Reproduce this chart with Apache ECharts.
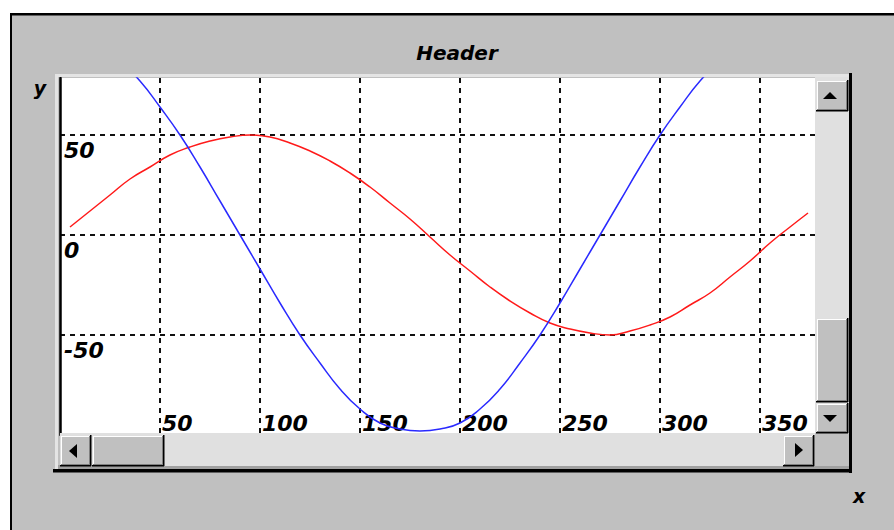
<!DOCTYPE html>
<html><head><meta charset="utf-8">
<script src="https://cdn.jsdelivr.net/npm/echarts@6/dist/echarts.min.js"></script>
<style>html,body{margin:0;padding:0;background:#fff}#c{width:894px;height:530px}</style>
</head><body><div id="c"></div><script>
// ---- data ----
const redX = [5,15,25,35,45,55,65,75,85,95,105,115,125,135,145,155,165,175,185,195,205,215,225,235,245,255,265,275,285,295,305,315,325,335,345,355,365,374];
const redY = [4,12,20,28,34,40,44,47,49,50,49,46,42,37,31,24,16,8,-1,-10,-18,-26,-33,-39,-44,-47,-49,-50,-48,-45,-41,-35,-29,-21,-13,-4,4,11];
const blueX = [30,40,50,60,70,80,90,100,110,120,130,140,150,160,170,180,190,200,210,220,230,240,250,260,270,280,290,300,310,320,330];
const blueY = [87,77,64,50,34,17,0,-17,-34,-50,-64,-77,-87,-94,-97,-98,-97,-94,-87,-77,-64,-50,-34,-17,0,17,34,50,64,77,87];
const xTickLabels = [50,100,150,200,250,300,350];
const yTickLabels = [-50,0,50];
const titleText = 'Header';
const xName = 'x', yName = 'y';

const FONT = 'DejaVu Sans';
const G = [];
function rect(x,y,w,h,fill,z){G.push({type:'rect',shape:{x:x,y:y,width:w,height:h},style:{fill:fill},z:z||100,silent:true});}
function button(x,y,w,h){
  rect(x,y,w,h,'#c0c0c0');
  rect(x,y,w,1,'#dfdfdf',101); rect(x,y,1,h,'#dfdfdf',101);
  rect(x+1,y+1,w-2,1,'#ffffff',101); rect(x+1,y+1,1,h-2,'#ffffff',101);
  rect(x+w-2,y+1,1,h-2,'#808080',101); rect(x+1,y+h-2,w-2,1,'#808080',101);
  rect(x+w-1,y,1.5,h,'#000',101); rect(x,y+h-1,w,1.5,'#000',101);
}
function tri(pts){G.push({type:'polygon',shape:{points:pts},style:{fill:'#000'},z:102,silent:true});}

// outer window frame
rect(0,0,894,13,'#ffffff',5); rect(0,0,10,530,'#ffffff',5);
rect(10,13,884,2.5,'#000',6); rect(10,13,2,517,'#000',6);
// panel bevel
rect(55,74,796,3,'#e4e4e4',50); rect(55,74,3,398,'#e4e4e4',50);
rect(849,73,3,400,'#000',50); rect(53,469,799,3.5,'#000',50);
rect(58,465,791,4,'#a0a0a0',50);
// horizontal scrollbar
rect(60,433,755,33,'#e0e0e0',99);
button(60,435,31,31); tri([[69,451],[77,444],[77,458]]);
button(92,435,72,31);
button(783,435,31,31); tri([[803,450],[795,443],[795,457]]);
// vertical scrollbar
rect(815,77,34,356,'#e0e0e0',99);
rect(815,433,34,33,'#c0c0c0',99);
button(816,80,32,31); tri([[830,92],[823,99],[837,99]]);
button(816,318,32,84);
button(816,403,32,30); tri([[830,422],[823,415],[837,415]]);
// texts
G.push({type:'text',x:457,y:53,z:110,style:{text:titleText,font:'italic bold 20px "'+FONT+'"',fill:'#000',textAlign:'center',textVerticalAlign:'middle'}});
G.push({type:'text',x:40,y:88,z:110,style:{text:yName,font:'italic bold 19px "'+FONT+'"',fill:'#000',textAlign:'center',textVerticalAlign:'middle'}});
G.push({type:'text',x:859,y:496,z:110,style:{text:xName,font:'italic bold 19px "'+FONT+'"',fill:'#000',textAlign:'center',textVerticalAlign:'middle'}});

const lab = {fontFamily:FONT,fontStyle:'italic',fontWeight:'bold',fontSize:22,color:'#000'};
const chart = echarts.init(document.getElementById('c'),null,{renderer:'svg'});
chart.setOption({
  backgroundColor:'#c0c0c0',
  animation:false,
  grid:{left:60,top:78,right:79,bottom:95,show:true,backgroundColor:'#ffffff',borderWidth:0},
  xAxis:{type:'value',min:0,max:377.5,interval:50,
    axisLine:{show:false},axisTick:{show:false},
    splitLine:{show:true,showMinLine:false,showMaxLine:false,lineStyle:{color:'#111',type:[5,5],width:2}},
    axisLabel:Object.assign({inside:true,align:'left',margin:1,padding:[0,0,0,2],
      formatter:function(v){return xTickLabels.indexOf(v)>=0?String(v):'';}},lab)},
  yAxis:{type:'value',min:-100,max:78.5,interval:50,
    axisLine:{show:true,lineStyle:{color:'#000',width:2.5}},axisTick:{show:false},
    splitLine:{show:true,showMinLine:false,showMaxLine:false,lineStyle:{color:'#111',type:[5,5],width:2}},
    axisLabel:Object.assign({inside:true,align:'left',verticalAlign:'top',margin:4,padding:[4,0,0,0],
      formatter:function(v){return yTickLabels.indexOf(v)>=0?String(v):'';}},lab)},
  series:[
    {type:'line',data:redX.map(function(x,i){return [x,redY[i]];}),smooth:true,showSymbol:false,
     lineStyle:{color:'#ff1a1a',width:1.5},clip:true,z:3},
    {type:'line',data:blueX.map(function(x,i){return [x,blueY[i]];}),smooth:true,showSymbol:false,
     lineStyle:{color:'#2a2aff',width:1.5},clip:true,z:3}
  ],
  graphic:G
});
</script></body></html>
